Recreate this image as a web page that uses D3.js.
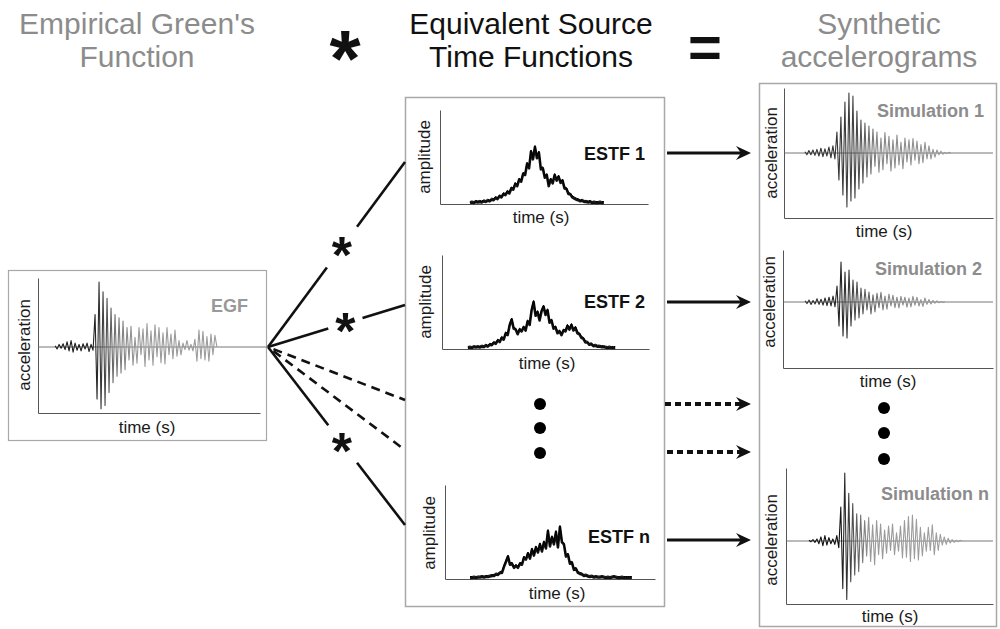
<!DOCTYPE html>
<html>
<head>
<meta charset="utf-8">
<script src="https://cdn.jsdelivr.net/npm/d3@7"></script>
<style>
  body { margin: 0; background: #fff; }
  svg { display: block; font-family: "Liberation Sans", Arial, sans-serif; }
</style>
</head>
<body>
<script>
// ---- Text content ----
const headerEGF = ["Empirical Green's", "Function"];
const headerESTF = ["Equivalent Source", "Time Functions"];
const headerSynth = ["Synthetic", "accelerograms"];
const estfNames = ["ESTF 1", "ESTF 2", "ESTF n"];
const simNames = ["Simulation 1", "Simulation 2", "Simulation n"];
const egfName = "EGF";

// ---- Waveforms: successive sample amplitudes (normalised) ----
// Time windows are in percent of each panel's time axis.
const egfWindow = [7.7, 80.6];
const egfTrace = [
  0.02,-0.03,0.04,-0.02,0.05,-0.04,0.08,-0.06,0.1,-0.08,0.06,-0.05,0.04,-0.06,0.05,-0.03,0.06,-0.07,0.04,-0.05,
  0.5,-0.8,1.0,-0.95,0.85,-0.9,0.75,-0.7,0.6,-0.55,0.5,-0.45,0.45,-0.4,0.4,
  -0.35,0.3,-0.2,0.32,-0.28,0.15,-0.25,0.3,-0.12,0.28,-0.3,0.36,-0.2,0.25,-0.28,0.34,-0.15,0.3,-0.24,0.22,
  -0.26,0.3,-0.12,0.2,-0.18,0.26,-0.14,0.1,-0.12,0.06,-0.04,0.1,-0.05,0.04,-0.06,0.12,-0.22,0.26,-0.18,0.24,
  -0.2,0.16,-0.22,0.2,-0.12,0.18,0
];

const sim1Window = [10.0, 79.9];
const sim1Trace = [
  0.02,-0.03,0.04,-0.03,0.05,-0.04,0.06,-0.05,0.08,-0.06,0.07,-0.05,0.1,-0.08,0.12,-0.1,
  0.35,-0.45,0.6,-0.7,0.85,-0.9,1.0,-0.8,0.95,-0.75,0.7,-0.6,0.55,-0.5,0.5,-0.4,0.45,
  -0.35,0.4,-0.22,0.35,-0.32,0.25,-0.28,0.34,-0.18,0.28,-0.3,0.22,-0.25,0.3,-0.2,0.18,-0.26,0.25,-0.15,0.22,
  -0.2,0.24,-0.12,0.2,-0.18,0.14,-0.16,0.18,-0.1,0.12,-0.1,0.06,-0.07,0.05,-0.03,0.03,-0.02,0.01,-0.01,0.01,0
];

const sim2Window = [10.5, 77.1];
const sim2Trace = [
  0.03,-0.04,0.05,-0.06,0.04,-0.05,0.08,-0.06,0.07,-0.08,0.1,-0.09,0.12,-0.1,0.15,-0.12,
  0.4,-0.6,1.0,-0.85,0.75,-0.9,0.8,-0.6,0.55,-0.45,0.5,-0.4,0.35,
  -0.3,0.32,-0.2,0.25,-0.3,0.18,-0.25,0.22,-0.14,0.24,-0.2,0.15,-0.18,0.2,-0.1,0.17,-0.14,0.12,-0.15,0.14,
  -0.08,0.12,-0.13,0.1,-0.12,0.14,-0.08,0.12,-0.1,0.06,-0.11,0.1,-0.06,0.06,-0.05,0.04,-0.03,0.03,-0.02,0.01,-0.01,0
];

const simNWindow = [11.1, 85.1];
const simNTrace = [
  0.01,-0.01,0.02,-0.02,0.03,-0.04,0.06,-0.07,0.08,-0.06,0.05,-0.04,0.03,-0.05,0.08,-0.1,
  0.5,-0.7,1.0,-0.86,0.7,-0.6,0.55,-0.5,0.4,-0.45,0.38,-0.32,
  0.3,-0.22,0.35,-0.3,0.24,-0.35,0.3,-0.2,0.25,-0.26,0.16,-0.18,0.22,-0.14,0.25,-0.2,0.12,-0.15,0.22,-0.25,
  0.3,-0.24,0.36,-0.3,0.38,-0.26,0.32,-0.28,0.2,-0.22,0.12,-0.15,0.2,-0.14,0.24,-0.2,0.12,-0.14,0.1,-0.06,
  0.06,-0.05,0.04,-0.03,0.02,-0.02,0.01,-0.01,0.01,0
];

// Source time functions (non-negative amplitude)
const estf1Window = [14.4, 78.8];
const estf1 = [
  0,0.01,0,0.02,0.01,0.02,0.01,0.03,0.02,0.04,0.03,
  0.06,0.05,0.09,0.07,0.12,0.1,0.16,0.14,0.2,0.17,0.26,
  0.24,0.34,0.3,0.42,0.38,0.52,0.5,0.7,0.62,0.92,0.78,
  1.0,0.8,0.9,0.6,0.62,0.45,0.5,0.3,0.42,0.35,0.5,0.4,
  0.47,0.36,0.4,0.26,0.25,0.16,0.15,0.1,0.08,0.06,0.05,
  0.03,0.04,0.02,0.02,0.01,0.02,0,0.01,0,0,0.01,0,0
];

const estf2Window = [12.5, 83.7];
const estf2 = [
  0,0.01,0,0.02,0.01,0.02,0.01,0.03,0.02,0.05,0.03,
  0.07,0.06,0.11,0.09,0.16,0.13,0.22,0.18,0.32,0.28,0.5,
  0.62,0.42,0.4,0.3,0.4,0.36,0.45,0.38,0.58,0.5,0.82,
  1.0,0.7,0.78,0.6,0.8,0.9,0.72,0.82,0.55,0.6,0.42,
  0.45,0.32,0.36,0.28,0.38,0.36,0.48,0.4,0.5,0.38,0.44,
  0.32,0.3,0.22,0.2,0.12,0.12,0.07,0.08,0.04,0.05,0.03,
  0.03,0.02,0.02,0.01,0,0.01,0,0,0
];

const estfNWindow = [11.9, 89.0];
const estfN = [
  0,0,0.01,0,0.01,0.01,0.02,0.01,0.02,0.02,0.03,
  0.04,0.04,0.07,0.06,0.1,0.1,0.22,0.32,0.42,0.26,0.28,
  0.2,0.24,0.2,0.28,0.26,0.4,0.36,0.48,0.38,0.56,0.44,
  0.6,0.5,0.66,0.52,0.7,0.58,0.92,0.62,0.8,0.66,0.9,
  0.6,1.0,0.7,0.66,0.42,0.46,0.28,0.3,0.16,0.18,0.1,
  0.08,0.07,0.04,0.05,0.03,0.02,0.03,0.01,0.02,0.01,0.01,
  0.02,0.01,0,0.01,0,0.01,0.02,0.01,0,0,0.01,0,0,0,0,0
];

// ---- Drawing ----
const W = 1000, H = 629;
const svg = d3.select("body").append("svg").attr("width", W).attr("height", H);
svg.append("rect").attr("width", W).attr("height", H).attr("fill", "#fff");
const defs = svg.append("defs");

const GREY_TEXT = "#8c8c8c";
const BOX = "#a8a8a8";
const AXIS = "#555";

// Headers
function header(lines, cx, color) {
  const t = svg.append("text").attr("text-anchor", "middle").attr("fill", color)
    .attr("font-size", 30);
  lines.forEach((s, i) => t.append("tspan").attr("x", cx).attr("y", 34 + i * 33).text(s));
}
header(headerEGF, 137, GREY_TEXT);
header(headerESTF, 531, "#111");
header(headerSynth, 879, GREY_TEXT);
svg.append("text").attr("x", 345).attr("y", 86).attr("text-anchor", "middle")
  .attr("font-size", 80).attr("font-weight", "bold").attr("fill", "#111").text("*");
svg.append("text").attr("x", 705).attr("y", 67).attr("text-anchor", "middle")
  .attr("font-size", 58).attr("font-weight", "bold").attr("fill", "#111").text("=");

// Boxes
function box(x, y, w, h, sw) {
  svg.append("rect").attr("x", x).attr("y", y).attr("width", w).attr("height", h)
    .attr("fill", "none").attr("stroke", BOX).attr("stroke-width", sw);
}
box(8.5, 270.5, 258, 170, 1.2);
box(405.5, 97.5, 259, 509, 1.5);
box(759.5, 83.5, 237, 543, 1.5);

function gradient(id, x0, x1, stops) {
  const g = defs.append("linearGradient").attr("id", id)
    .attr("gradientUnits", "userSpaceOnUse")
    .attr("x1", x0).attr("x2", x1).attr("y1", 0).attr("y2", 0);
  stops.forEach(([o, c]) => g.append("stop").attr("offset", o).attr("stop-color", c));
  return `url(#${id})`;
}

// Axis frame (L shape) using d3 axes without ticks
function frame(p) {
  const x = d3.scaleLinear().domain([0, 100]).range([p.ax, p.right]);
  const yAxisScale = d3.scaleLinear().domain([0, 1]).range([p.bottom, p.top]);
  const g = svg.append("g");
  g.append("g").attr("transform", `translate(0,${p.bottom})`)
    .call(d3.axisBottom(x).tickValues([]).tickSizeOuter(0))
    .select(".domain").attr("stroke", AXIS).attr("stroke-width", 1);
  g.append("g").attr("transform", `translate(${p.ax},0)`)
    .call(d3.axisLeft(yAxisScale).tickValues([]).tickSizeOuter(0))
    .select(".domain").attr("stroke", AXIS).attr("stroke-width", 1);
  // axis titles
  svg.append("text").attr("transform", `translate(${p.yl[0]},${p.yl[1]}) rotate(-90)`)
    .attr("text-anchor", "middle").attr("dominant-baseline", "central")
    .attr("font-size", 17).attr("fill", "#1a1a1a").text(p.yTitle);
  svg.append("text").attr("x", p.xl[0]).attr("y", p.xl[1]).attr("text-anchor", "middle")
    .attr("font-size", 17).attr("fill", "#1a1a1a").text("time (s)");
  svg.append("text").attr("x", p.name[0]).attr("y", p.name[1])
    .attr("font-size", 18).attr("font-weight", "bold").attr("fill", p.nameColor).text(p.label);
  return x;
}

function seismogram(p, values, win, id, stops) {
  const x = frame(Object.assign({ yTitle: "acceleration" }, p));
  const y = d3.scaleLinear().domain([-1, 1]).range([p.base + p.amp, p.base - p.amp]);
  // zero line
  svg.append("line").attr("x1", p.ax).attr("x2", p.right).attr("y1", p.base).attr("y2", p.base)
    .attr("stroke", "#666").attr("stroke-width", 0.9);
  const step = (win[1] - win[0]) / (values.length - 1);
  const line = d3.line().x((d, i) => x(win[0] + i * step)).y(d => y(d));
  const stroke = gradient(id, x(win[0]), x(win[1]), stops);
  svg.append("path").attr("d", line(values)).attr("fill", "none")
    .attr("stroke", stroke).attr("stroke-width", 1.1).attr("stroke-linejoin", "round");
}

function stf(p, values, win) {
  const x = frame(Object.assign({ yTitle: "amplitude", nameColor: "#111" }, p));
  const y = d3.scaleLinear().domain([0, 1]).range([p.bottom - 1, p.bottom - 1 - p.amp]);
  const step = (win[1] - win[0]) / (values.length - 1);
  const line = d3.line().x((d, i) => x(win[0] + i * step)).y(d => y(d)).curve(d3.curveLinear);
  svg.append("path").attr("d", line(values)).attr("fill", "none")
    .attr("stroke", "#111").attr("stroke-width", 2.6).attr("stroke-linejoin", "round");
  svg.append("path").attr("d", line(values)).attr("fill", "none")
    .attr("stroke", "#000").attr("stroke-width", 1).attr("transform", "translate(0,-1.5)");
}

// EGF panel
seismogram({ ax: 38, right: 260, top: 278, bottom: 413, base: 347, amp: 65,
  yl: [24, 345], xl: [147, 433], name: [211, 312], label: egfName, nameColor: "#999" },
  egfTrace, egfWindow, "gEGF", [[0, "#1a1a1a"], [0.25, "#222"], [0.38, "#777"], [0.5, "#999"], [1, "#9c9c9c"]]);

// ESTF panels
stf({ ax: 440, right: 648, top: 110, bottom: 204, amp: 56,
  yl: [424, 157], xl: [541, 223], name: [584, 160], label: estfNames[0] }, estf1, estf1Window);
stf({ ax: 442, right: 649, top: 255, bottom: 349, amp: 46,
  yl: [425, 302], xl: [547, 369], name: [584, 308], label: estfNames[1] }, estf2, estf2Window);
stf({ ax: 445, right: 655, top: 485, bottom: 579, amp: 51,
  yl: [429, 533], xl: [557, 599], name: [588, 543], label: estfNames[2] }, estfN, estfNWindow);

// Simulation panels
seismogram({ ax: 784, right: 993, top: 88, bottom: 218, base: 153, amp: 60,
  yl: [771, 153], xl: [884, 237], name: [877, 117], label: simNames[0], nameColor: GREY_TEXT },
  sim1Trace, sim1Window, "gS1", [[0, "#333"], [0.2, "#333"], [0.35, "#444"], [0.5, "#888"], [1, "#999"]]);
seismogram({ ax: 783, right: 993, top: 250, bottom: 368, base: 302, amp: 40,
  yl: [769, 302], xl: [888, 387], name: [875, 275], label: simNames[1], nameColor: GREY_TEXT },
  sim2Trace, sim2Window, "gS2", [[0, "#333"], [0.25, "#222"], [0.4, "#555"], [0.6, "#888"], [1, "#999"]]);
seismogram({ ax: 786, right: 993, top: 468, bottom: 604, base: 541, amp: 68,
  yl: [771, 540], xl: [890, 622], name: [881, 500], label: simNames[2], nameColor: GREY_TEXT },
  simNTrace, simNWindow, "gSN", [[0, "#111"], [0.2, "#111"], [0.27, "#444"], [0.4, "#999"], [1, "#a0a0a0"]]);

// Fan of convolution links from the EGF
const apex = [268, 347];
const fan = [
  { to: [405, 162], gap: [0.43, 0.65], star: 0.54, dashed: false },
  { to: [405, 305], gap: [0.44, 0.69], star: 0.565, dashed: false },
  { to: [405, 400], dashed: true },
  { to: [405, 450], dashed: true },
  { to: [405, 525], gap: [0.44, 0.65], star: 0.54, dashed: false }
];
const lerp = (a, b, t) => [a[0] + (b[0] - a[0]) * t, a[1] + (b[1] - a[1]) * t];
fan.forEach(f => {
  const segs = f.dashed ? [[0.04, 1]] : [[0, f.gap[0]], [f.gap[1], 1]];
  segs.forEach(([t0, t1]) => {
    const a = lerp(apex, f.to, t0), b = lerp(apex, f.to, t1);
    svg.append("line").attr("x1", a[0]).attr("y1", a[1]).attr("x2", b[0]).attr("y2", b[1])
      .attr("stroke", "#111").attr("stroke-width", 2.6)
      .attr("stroke-dasharray", f.dashed ? "9,6" : null);
  });
  if (!f.dashed) {
    const c = lerp(apex, f.to, f.star);
    svg.append("text").attr("x", c[0]).attr("y", c[1] + 26).attr("text-anchor", "middle")
      .attr("font-size", 52).attr("font-weight", "bold").attr("fill", "#111").text("*");
  }
});
// apex stub connecting the EGF box
svg.append("line").attr("x1", 260).attr("x2", 268).attr("y1", 347).attr("y2", 347)
  .attr("stroke", "#666").attr("stroke-width", 0.9);

// Arrows to the simulations
defs.append("marker").attr("id", "head").attr("viewBox", "-5 -7 15 14")
  .attr("markerUnits", "userSpaceOnUse").attr("markerWidth", 15).attr("markerHeight", 14)
  .attr("refX", 0).attr("refY", 0).attr("orient", "auto")
  .append("path").attr("d", "M-5,-7 L10,0 L-5,7 L0,0 Z").attr("fill", "#111");
const arrows = [
  { y: 153, x0: 667, dashed: false },
  { y: 302, x0: 667, dashed: false },
  { y: 404, x0: 665, dashed: true },
  { y: 452, x0: 667, dashed: true },
  { y: 540, x0: 667, dashed: false }
];
arrows.forEach(a => {
  svg.append("line").attr("x1", a.x0).attr("x2", 741).attr("y1", a.y).attr("y2", a.y)
    .attr("stroke", "#111").attr("stroke-width", a.dashed ? 4 : 2.8)
    .attr("stroke-dasharray", a.dashed ? "6,4" : null)
    .attr("marker-end", "url(#head)");
});

// Ellipsis dots
[[540, 404], [540, 428], [540, 453], [884, 408], [884, 433], [884, 459]].forEach(([cx, cy]) =>
  svg.append("circle").attr("cx", cx).attr("cy", cy).attr("r", 6).attr("fill", "#000"));
</script>
</body>
</html>
